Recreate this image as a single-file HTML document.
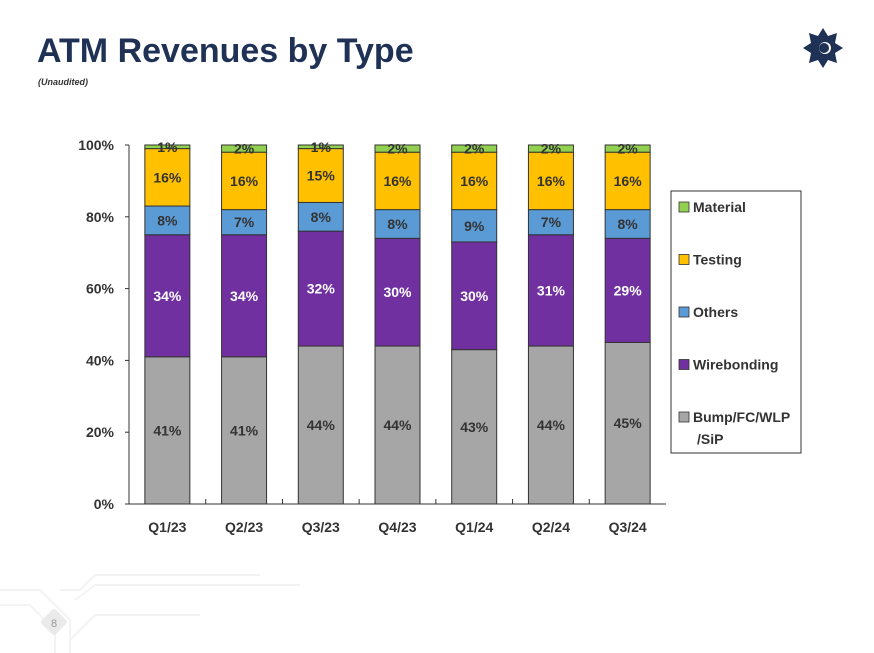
<!DOCTYPE html>
<html><head><meta charset="utf-8"><style>
body{margin:0;width:874px;height:653px;background:#fff;overflow:hidden;font-family:"Liberation Sans",sans-serif;position:relative}
#title{position:absolute;left:37px;top:32px;font-size:34px;font-weight:bold;color:#1f3155;letter-spacing:0px}
#sub{position:absolute;left:38px;top:77px;font-size:9px;font-style:italic;font-weight:bold;color:#333}
</style></head><body>
<div id="title">ATM Revenues by Type</div>
<div id="sub">(Unaudited)</div>
<svg width="874" height="653" style="position:absolute;left:0;top:0" id="svg">
<g transform="translate(823,48)">
<polygon points="0,-20 5,-12 14,-15 12,-5 20,0 12,5 14,15 5,12 0,20 -5,12 -14,15 -12,5 -20,0 -12,-5 -14,-15 -5,-12" fill="#1f3155"/>
<circle cx="2" cy="0" r="6" fill="#fff"/><circle cx="1" cy="0" r="5" fill="#1f3155"/>
</g>
<g stroke="#f3f3f3" fill="none" stroke-width="2">
<path d="M0,590 L40,590 L70,620 L70,653"/><path d="M0,605 L30,605 L55,630 L55,653"/>
<path d="M60,590 L80,590 L95,575 L260,575"/><path d="M75,600 L95,585 L300,585"/>
<path d="M70,640 L95,615 L200,615"/>
</g>
<g><rect x="44" y="612" width="20" height="20" rx="3" fill="#eaeaea" transform="rotate(45 54 622)"/><text x="54" y="627" font-size="11" fill="#999" text-anchor="middle">8</text></g>
<g id="chart"></g>
</svg>
<script>
const categories=["Q1/23","Q2/23","Q3/23","Q4/23","Q1/24","Q2/24","Q3/24"];
const bump=[41,41,44,44,43,44,45];
const wire=[34,34,32,30,30,31,29];
const others=[8,7,8,8,9,7,8];
const testing=[16,16,15,16,16,16,16];
const material=[1,2,1,2,2,2,2];
const yTicks=[0,20,40,60,80,100];
const seriesNames=["Bump/FC/WLP /SiP","Wirebonding","Others","Testing","Material"];
const NS="http://www.w3.org/2000/svg";
const g=document.getElementById('chart');
const X0=129,X1=666,Y0=504,Y1=145;
const step=(X1-X0)/categories.length,bw=45;
const y=v=>Y0-(v/100)*(Y0-Y1);
const xc=i=>X0+step*(i+0.5);
function mk(t,a){const e=document.createElementNS(NS,t);for(const k in a)e.setAttribute(k,a[k]);g.appendChild(e);return e;}
const series=[bump,wire,others,testing,material];
const colors=["#a6a6a6","#7030a0","#5b9bd5","#ffc000","#92d050"];
const txtCol=["#333","#fff","#333","#333","#333"];
const segNames=["bump","wirebonding","others","testing","material"];
let e=mk('line',{x1:X0,y1:Y1,x2:X0,y2:Y0,stroke:'#333'});


e=mk('line',{x1:X0,y1:Y0,x2:X1,y2:Y0,stroke:'#333'});


yTicks.forEach(t=>{
 mk('line',{x1:X0-4,y1:y(t),x2:X0,y2:y(t),stroke:'#333'});
 e=mk('text',{x:X0-15,y:y(t)+5,'font-size':14,'font-weight':'bold','text-anchor':'end',fill:'#333'});
 e.textContent=t+'%';
 
 
});
for(let i=1;i<categories.length;i++)mk('line',{x1:X0+step*i,y1:Y0,x2:X0+step*i,y2:Y0-5,stroke:'#333'});
categories.forEach((c,i)=>{
 let base=0;
 series.forEach((s,k)=>{
  const v=s[i];
  e=mk('rect',{x:xc(i)-bw/2,y:y(base+v),width:bw,height:y(base)-y(base+v),fill:colors[k],stroke:'#333','stroke-width':1});
  
  
  const mid=(y(base)+y(base+v))/2;
  e=mk('text',{x:xc(i),y:mid+5,'font-size':14,'font-weight':'bold','text-anchor':'middle',fill:txtCol[k]});
  e.textContent=v+'%';
  
  
  base+=v;
 });
 e=mk('text',{x:xc(i),y:Y0+28,'font-size':14,'font-weight':'bold','text-anchor':'middle',fill:'#333'});
 e.textContent=c;
 
 
});
e=mk('rect',{x:671,y:191,width:130,height:262,fill:'#fff',stroke:'#333'});


const order=[4,3,2,1,0];
order.forEach((k,j)=>{
 const ly=207+j*52.5;
 e=mk('rect',{x:679,y:ly-5,width:10,height:10,fill:colors[k],stroke:'#333','stroke-width':0.8});
 
 
 const lines=seriesNames[k].split(' ');
 lines.forEach((ln,m)=>{
  e=mk('text',{x:m?697:693,y:ly+5+m*22,'font-size':14,'font-weight':'bold',fill:'#333'});
  e.textContent=ln;
  
  
 });
});
</script>
</body></html>
